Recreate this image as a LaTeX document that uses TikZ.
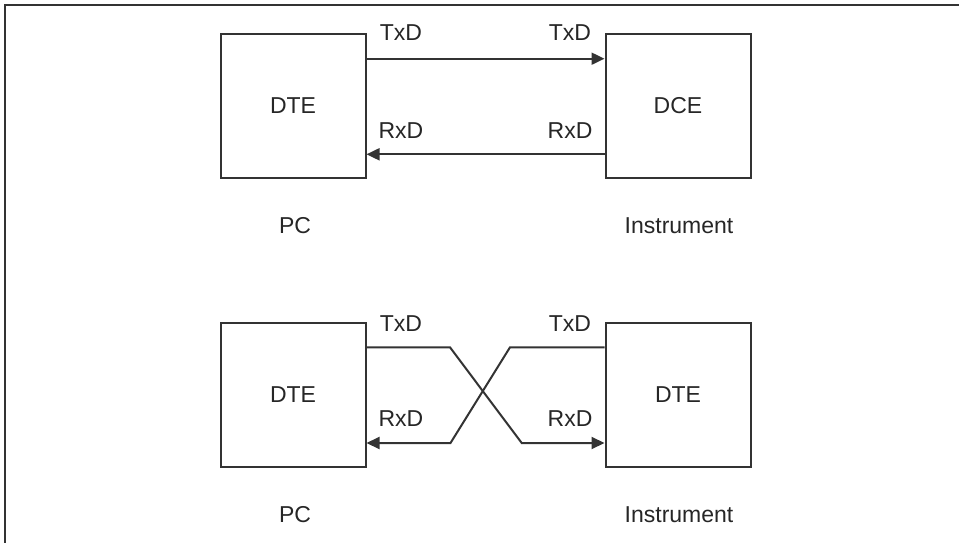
\documentclass[tikz,border=0pt]{standalone}
\usepackage{fontspec}
\setmainfont{Liberation Sans}
\usetikzlibrary{arrows.meta}
\begin{document}
\begin{tikzpicture}[x=1pt,y=-1pt,
  line width=2pt,
  every node/.style={font=\fontsize{23}{27}\selectfont, text=black!85},
  devbox/.style={draw=black!80, line width=2pt, minimum width=145pt, minimum height=144pt, inner sep=0pt},
  wire/.style={draw=black!80, line width=2pt},
  arr/.style={wire, -{Triangle[length=13pt,width=12pt]}},
  lbl/.style={inner sep=0pt, anchor=base}]
\useasboundingbox (0,0) rectangle (959,543);
\draw[black!80, line width=1.6pt] (5,560) -- (5,5) -- (970,5);
% top diagram
\node[devbox] (dte1) at (293,106) {};
\node at (293,106) {DTE};
\node[devbox] (dce1) at (678,106) {};
\node at (678,106) {DCE};
\coordinate (t1a) at (dte1.east |- 0,58.7);
\coordinate (t1b) at (dce1.west |- 0,58.7);
\coordinate (r1a) at (dce1.west |- 0,154.3);
\coordinate (r1b) at (dte1.east |- 0,154.3);
\draw[arr] (t1a) -- (t1b);
\draw[arr] (r1a) -- (r1b);
\node[lbl] (tx1l) at (401,41) {TxD};
\node[lbl] (tx1r) at (570,41) {TxD};
\node[lbl] (rx1l) at (401,138) {RxD};
\node[lbl] (rx1r) at (570,138) {RxD};
\node (pc1) at (295,226) {PC};
\node (ins1) at (679,226) {Instrument};
% bottom diagram
\node[devbox] (dte2) at (293,395) {};
\node at (293,395) {DTE};
\node[devbox] (dte3) at (678,395) {};
\node at (678,395) {DTE};
\coordinate (t2a) at (dte2.east |- 0,347.3);
\coordinate (t2b) at (450,347.3);
\coordinate (t2c) at (521.7,443);
\coordinate (t2d) at (dte3.west |- 0,443);
\coordinate (t3a) at (dte3.west |- 0,347.3);
\coordinate (t3b) at (510,347.3);
\coordinate (t3c) at (450.5,443);
\coordinate (t3d) at (dte2.east |- 0,443);
\draw[arr] (t2a) -- (t2b) -- (t2c) -- (t2d);
\draw[arr] (t3a) -- (t3b) -- (t3c) -- (t3d);
\node[lbl] (tx2l) at (401,331) {TxD};
\node[lbl] (tx2r) at (570,331) {TxD};
\node[lbl] (rx2l) at (401,426) {RxD};
\node[lbl] (rx2r) at (570,426) {RxD};
\node (pc2) at (295,515) {PC};
\node (ins2) at (679,515) {Instrument};
\end{tikzpicture}
\end{document}
